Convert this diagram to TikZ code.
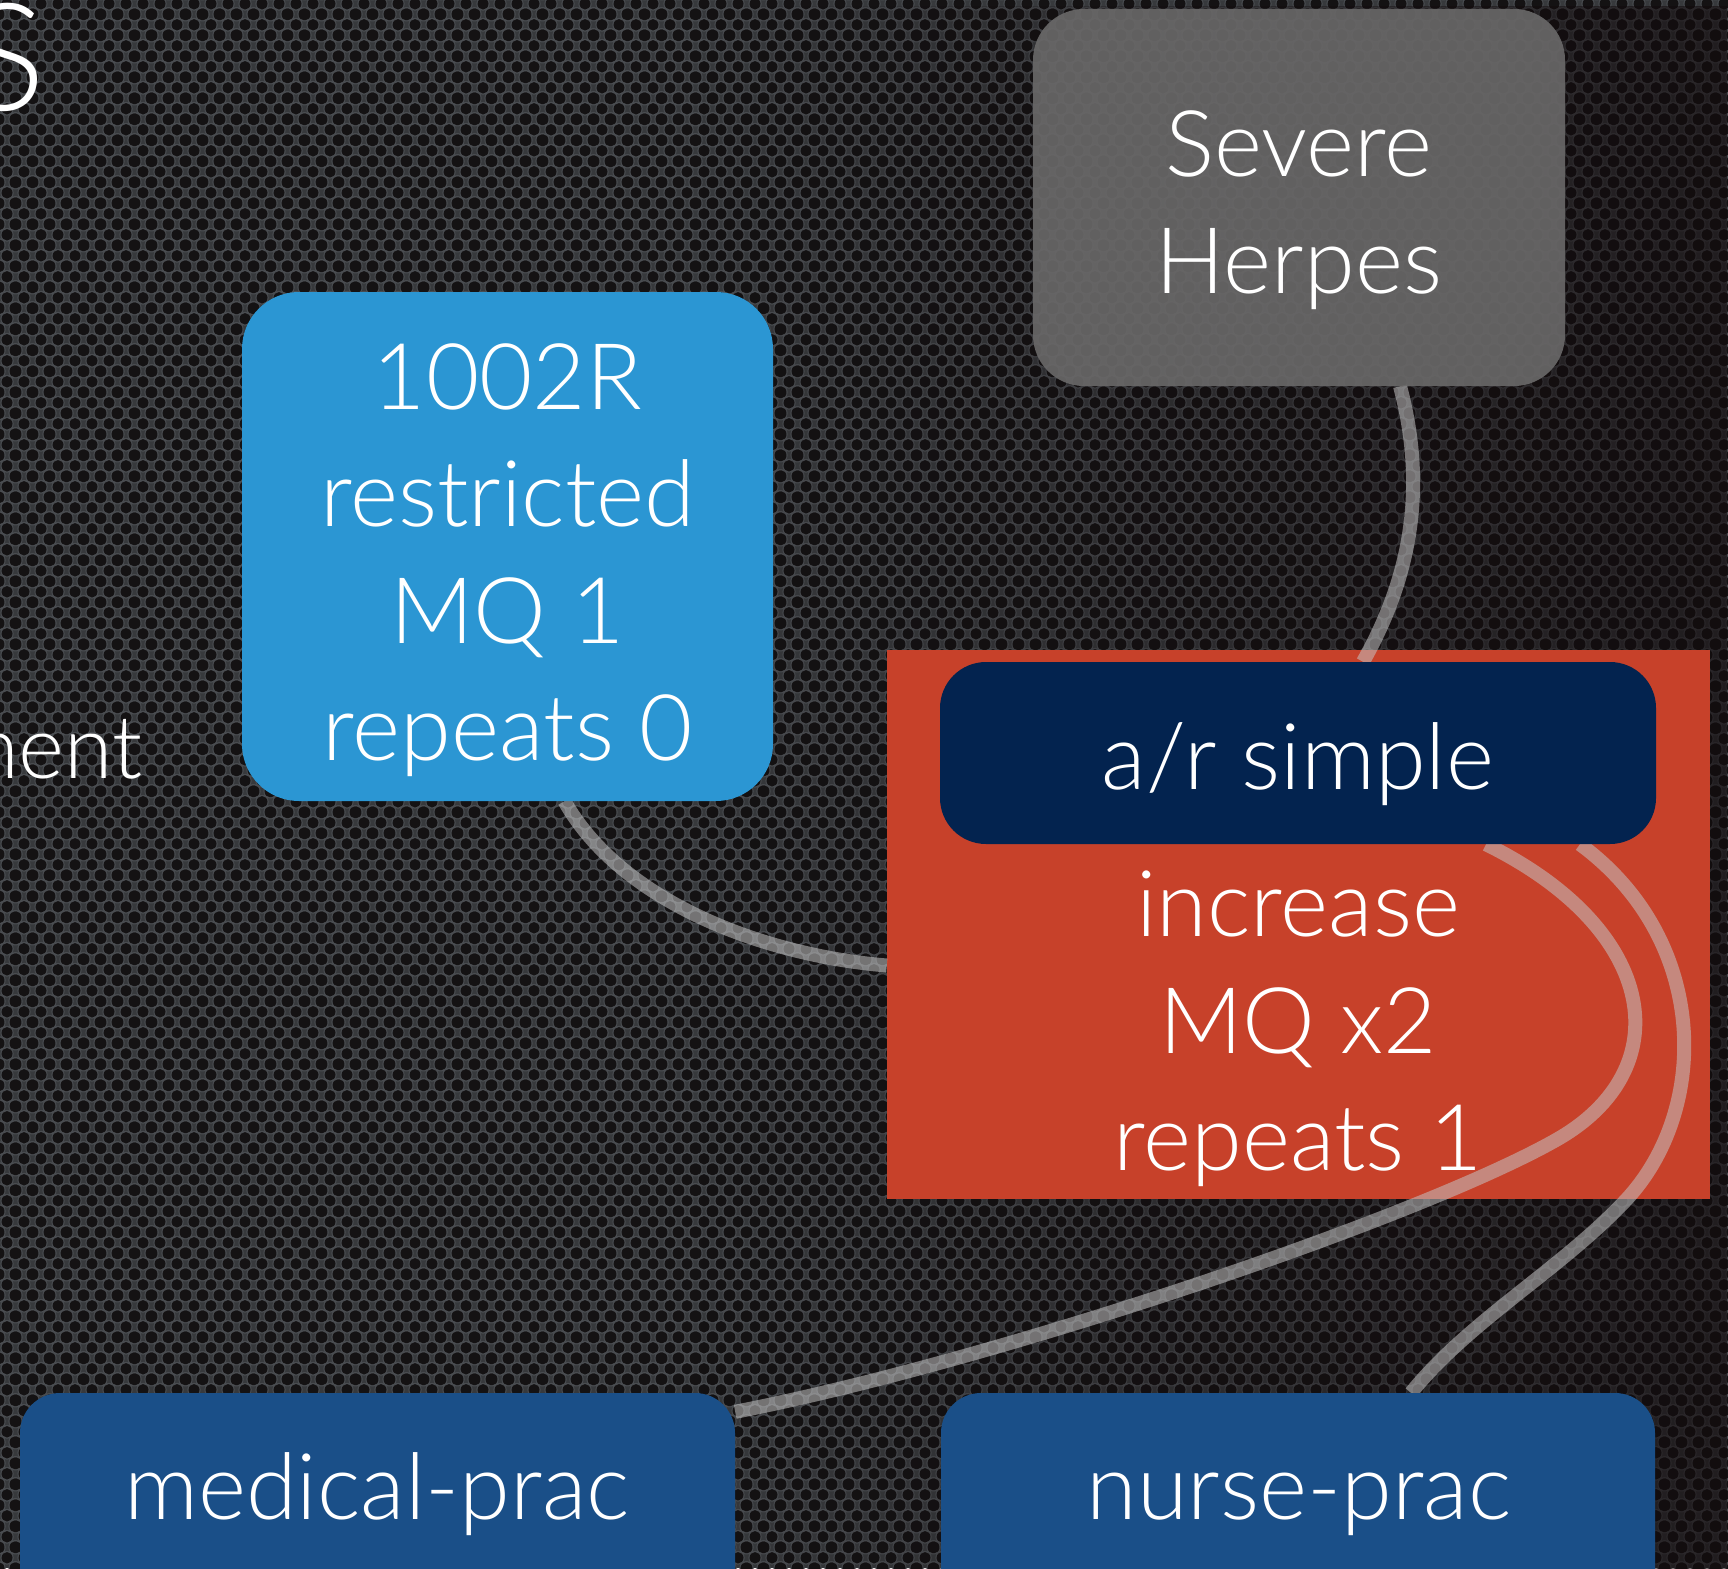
\documentclass[tikz,border=0pt]{standalone}
\usepackage{fontspec}
\setmainfont{Lato Light}
\usetikzlibrary{patterns,calc,fadings}
\pgfdeclarelayer{bglayer}
\pgfdeclarelayer{edgelayer}
\pgfsetlayers{bglayer,edgelayer,main}
\definecolor{bgc}{HTML}{37393C}
\definecolor{ringc}{HTML}{4A4D51}
\definecolor{holec}{HTML}{141213}
\definecolor{vignc}{HTML}{120A0C}
\definecolor{herpesc}{HTML}{6A6969}
\definecolor{bluec}{HTML}{2B96D3}
\definecolor{redc}{HTML}{C7412A}
\definecolor{navyc}{HTML}{03234F}
\definecolor{bottomc}{HTML}{1A4F88}
\definecolor{edgegray}{HTML}{C4C4C4}
\pgfdeclarepatternformonly{ringsP}{\pgfpointorigin}{\pgfqpoint{17pt}{20.7pt}}{\pgfqpoint{17pt}{20.7pt}}{%
  \pgfpathcircle{\pgfqpoint{8.5pt}{10.35pt}}{7pt}%
  \pgfpathcircle{\pgfqpoint{0pt}{0pt}}{7pt}%
  \pgfpathcircle{\pgfqpoint{17pt}{0pt}}{7pt}%
  \pgfpathcircle{\pgfqpoint{0pt}{20.7pt}}{7pt}%
  \pgfpathcircle{\pgfqpoint{17pt}{20.7pt}}{7pt}%
  \pgfusepath{fill}}
\pgfdeclarepatternformonly{holesP}{\pgfpointorigin}{\pgfqpoint{17pt}{20.7pt}}{\pgfqpoint{17pt}{20.7pt}}{%
  \pgfpathcircle{\pgfqpoint{8.5pt}{10.35pt}}{5.8pt}%
  \pgfpathcircle{\pgfqpoint{0pt}{0pt}}{5.8pt}%
  \pgfpathcircle{\pgfqpoint{17pt}{0pt}}{5.8pt}%
  \pgfpathcircle{\pgfqpoint{0pt}{20.7pt}}{5.8pt}%
  \pgfpathcircle{\pgfqpoint{17pt}{20.7pt}}{5.8pt}%
  \pgfusepath{fill}}
\tikzset{
  lbl/.style={text=white, font=\fontsize{92}{117}\selectfont, align=center, inner sep=0pt},
  boxshape/.style={rectangle, inner sep=0pt, draw=none},
  conn/.style={line width=14pt, draw=edgegray, draw opacity=0.55, line cap=butt},
}
\begin{document}
\begin{tikzpicture}[x=1pt, y=-1pt]
\useasboundingbox (0,0) rectangle (1728,1568);
\clip (0,0) rectangle (1728,1568);
\begin{pgfonlayer}{bglayer}
  \fill[bgc] (0,0) rectangle (1728,1568);
  \fill[pattern=ringsP, pattern color=ringc] (0,0) rectangle (1728,1568);
  \fill[pattern=holesP, pattern color=holec] (0,0) rectangle (1728,1568);
  \fill[vignc, fill opacity=0.6, path fading=west] (700,0) rectangle (1728,1568);
  \node[boxshape, fill=redc, minimum width=823pt, minimum height=549pt] (red) at (1298.5,924.5) {};
\end{pgfonlayer}

% title remnants
\node[lbl, font=\fontsize{150}{165}\selectfont, anchor=base east] (titleS) at (46,111) {S};
\node[lbl, font=\fontsize{88}{110}\selectfont, anchor=base east] (leftword) at (143,778) {ment};

% boxes
\node[boxshape, rounded corners=51pt, fill=herpesc, fill opacity=0.9, minimum width=532pt, minimum height=377pt] (herpes) at (1299,197.5) {};
\node[lbl] (herpesT) at (1299,210.5) {Severe\\Herpes};

\node[boxshape, rounded corners=57pt, fill=bluec, minimum width=531pt, minimum height=509pt] (blue) at (507.5,546.5) {};
\node[lbl] (blueT) at (507.5,560.5) {1002R\\restricted\\MQ 1\\repeats 0};

\node[boxshape, rounded corners=46pt, fill=navyc, minimum width=716pt, minimum height=182pt] (arsimple) at (1298,753) {};
\node[lbl] (arsimpleT) at (1298,764.5) {a/r simple};

\node[lbl] (redT) at (1298,1029) {increase\\MQ x2\\repeats 1};

\node[boxshape, rounded corners=40pt, fill=bottomc, minimum width=715pt, minimum height=230pt] (medical) at (377.5,1508) {};
\node[lbl] (medicalT) at (377,1494.5) {medical-prac};

\node[boxshape, rounded corners=40pt, fill=bottomc, minimum width=714pt, minimum height=230pt] (nurse) at (1298,1508) {};
\node[lbl] (nurseT) at (1299,1504) {nurse-prac};

% connectors
\begin{pgfonlayer}{edgelayer}
  \draw[conn] ($(herpes.south)+(101,0)$) .. controls (1425,480) and (1415,570) .. ($(arsimple.north)+(65,0)$);
  \draw[conn] ($(blue.south)+(57,0)$) .. controls (620,900) and (760,955) .. ($(red.west)+(0,41)$);
  \draw[conn] ($(arsimple.south)+(188,0)$) .. controls (1660,930) and (1680,1070) .. (1556,1140)
              .. controls (1420,1217) and (1000,1360) .. ($(medical.north east)+(0,19)$);
  \draw[conn] ($(arsimple.south)+(282,0)$) .. controls (1710,940) and (1710,1110) .. (1626,1200)
              .. controls (1560,1270) and (1470,1320) .. ($(nurse.north)+(113,0)$);
\end{pgfonlayer}
\end{tikzpicture}
\end{document}
